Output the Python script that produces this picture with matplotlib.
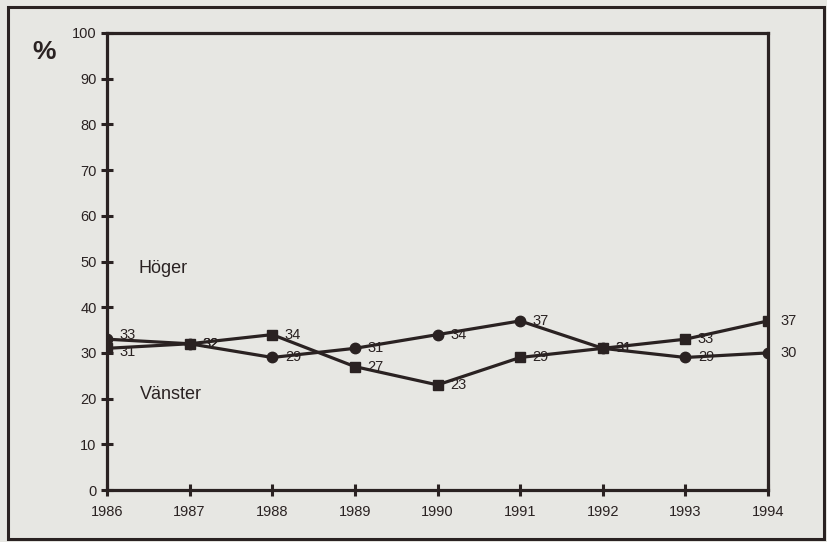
import matplotlib
matplotlib.use('Agg')
import matplotlib.pyplot as plt
import matplotlib.patches as patches

plt.rcParams['font.family'] = ['Liberation Sans', 'DejaVu Sans']

years = [1986, 1987, 1988, 1989, 1990, 1991, 1992, 1993, 1994]
hoger = [33, 32, 29, 31, 34, 37, 31, 29, 30]
vanster = [31, 32, 34, 27, 23, 29, 31, 33, 37]
yticks = [0, 10, 20, 30, 40, 50, 60, 70, 80, 90, 100]

ink = '#2a2222'
paper = '#e7e7e3'

fig = plt.figure(figsize=(8.28, 5.42), dpi=100, facecolor=paper)
ax = fig.add_axes([107/828, 1 - 490/542, (768-107)/828, (490-33)/542])
ax.set_facecolor(paper)

# outer frame of the figure box
frame = patches.Rectangle((8/828, 1 - 539/542), 816/828, 532/542,
                          transform=fig.transFigure, fill=False,
                          edgecolor=ink, linewidth=2.2)
fig.patches.append(frame)

ax.plot(years, hoger, color=ink, linewidth=2.3, marker='o', markersize=7.5,
        markerfacecolor=ink, markeredgecolor=ink)
ax.plot(years, vanster, color=ink, linewidth=2.3, marker='s', markersize=7,
        markerfacecolor=ink, markeredgecolor=ink)

# small vertical nudges so the 1986 labels don't collide
for i, (x, y) in enumerate(zip(years, hoger)):
    dy = 3 if i == 0 else 0
    ax.annotate(str(y), (x, y), xytext=(9, dy), textcoords='offset points',
                ha='left', va='center', fontsize=10.5, color=ink)
for i, (x, y) in enumerate(zip(years, vanster)):
    dy = -3 if i == 0 else 0
    ax.annotate(str(y), (x, y), xytext=(9, dy), textcoords='offset points',
                ha='left', va='center', fontsize=10.5, color=ink)

ax.text(1986.38, 48.5, 'Höger', fontsize=13, color=ink, va='center', ha='left')
ax.text(1986.4, 20.8, 'Vänster', fontsize=13, color=ink, va='center', ha='left')
fig.text(32/828, 1 - 52/542, '%', fontsize=19, fontweight='bold', color=ink,
         va='center', ha='left')

ax.set_xlim(1986, 1994)
ax.set_ylim(0, 100)
ax.set_xticks(years)
ax.set_yticks(yticks)
ax.tick_params(axis='both', direction='inout', length=9, width=2.2,
               colors=ink, labelsize=10.5)
ax.tick_params(axis='x', pad=6)
ax.tick_params(axis='y', pad=3)
for s in ax.spines.values():
    s.set_linewidth(2.3)
    s.set_color(ink)

fig.savefig('out.png', dpi=100, facecolor=paper)
